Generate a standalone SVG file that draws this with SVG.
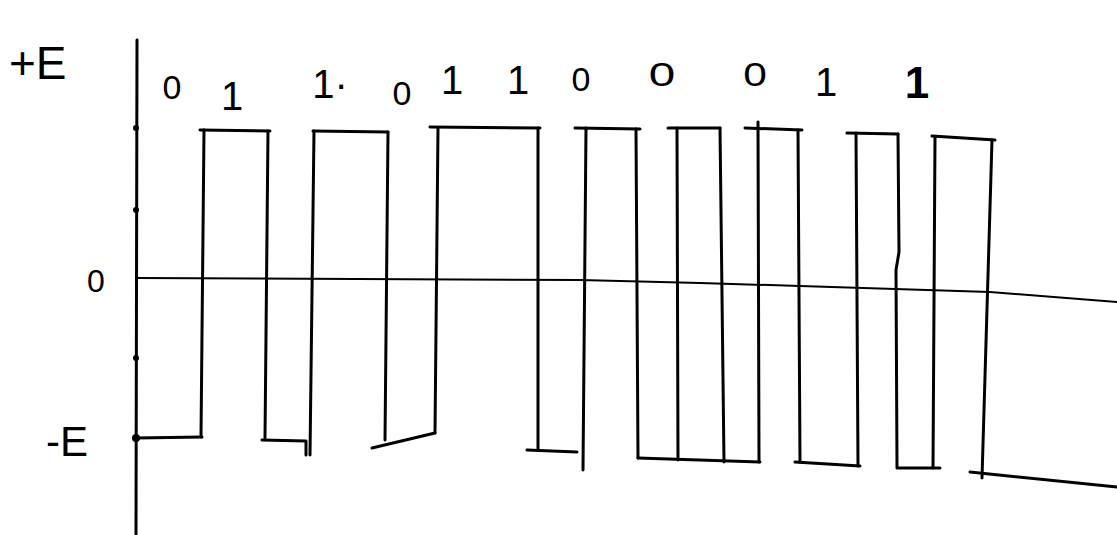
<svg xmlns="http://www.w3.org/2000/svg" width="1117" height="535" viewBox="0 0 1117 535">
<style>
.w{fill:none;stroke:#000;stroke-width:3;stroke-linecap:round;stroke-linejoin:round}
.z{fill:none;stroke:#000;stroke-width:2;stroke-linecap:round}
.t{font-family:"Liberation Sans",sans-serif;fill:#000}
.one{font-size:40px}
.zero{font-size:34px}
</style>
<rect width="1117" height="535" fill="#fff"/>
<g id="axis">
<path class="w" d="M137,40 L136,535"/>
<circle cx="136" cy="128" r="3"/>
<circle cx="136" cy="210" r="3"/>
<circle cx="136" cy="358" r="3"/>
<circle cx="136" cy="438" r="4"/>
</g>
<g id="zero-line">
<path class="z" d="M136,278 L580,280 L700,283 L800,286 L990,292 L1117,302"/>
</g>
<g id="labels" class="t">
<text x="9" y="79" font-size="46">+E</text>
<text x="87" y="292" font-size="32">0</text>
<text x="46" y="456" font-size="42">-E</text>
</g>
<g id="bits" class="t" text-anchor="middle">
<text class="zero" x="172" y="99">0</text>
<text class="one" x="232" y="110">1</text>
<text class="one" x="330" y="98">1·</text>
<text class="zero" x="402" y="105">0</text>
<text class="one" x="452" y="94">1</text>
<text class="one" x="518" y="94">1</text>
<text class="zero" x="581" y="91">0</text>
<text class="zero" x="662" y="86" transform="translate(662 0) scale(1.4 1) translate(-662 0)">0</text>
<text class="zero" x="755" y="86" transform="translate(755 0) scale(1.25 1) translate(-755 0)">0</text>
<text class="one" x="826" y="96">1</text>
<text x="917" y="98" font-weight="bold" font-size="44">1</text>
</g>
<g id="waveform">
<path class="w" d="M136,438 L202,437"/>
<path class="w" d="M201,437 L204,130"/>
<path class="w" d="M200,130 L270,131"/>
<path class="w" d="M268,131 L265,438"/>
<path class="w" d="M262,440 L306,441 L306,455"/>
<path class="w" d="M310,455 L314,131"/>
<path class="w" d="M313,131 L388,132"/>
<path class="w" d="M388,132 L385,440"/>
<path class="w" d="M372,448 L435,433"/>
<path class="w" d="M435,433 L438,128"/>
<path class="w" d="M430,127 L540,128"/>
<path class="w" d="M538,128 L538,450"/>
<path class="w" d="M527,450 L577,452"/>
<path class="w" d="M583,470 L586,128"/>
<path class="w" d="M575,128 L640,129"/>
<path class="w" d="M636,129 L638,458"/>
<path class="w" d="M638,458 L760,462"/>
<path class="w" d="M678,460 L677,128"/>
<path class="w" d="M668,128 L720,128"/>
<path class="w" d="M720,128 L724,462"/>
<path class="w" d="M759,462 L758,122"/>
<path class="w" d="M745,128 L802,130"/>
<path class="w" d="M798,130 L800,462"/>
<path class="w" d="M795,462 L860,466"/>
<path class="w" d="M858,466 L856,133"/>
<path class="w" d="M847,133 L898,134"/>
<path class="w" d="M898,134 L899,252 L896,270 L897,467"/>
<path class="w" d="M897,468 L940,468"/>
<path class="w" d="M933,468 L935,137"/>
<path class="w" d="M932,136 L995,140"/>
<path class="w" d="M992,140 L982,478"/>
<path class="w" d="M970,472 L1117,487"/>
</g>
</svg>
